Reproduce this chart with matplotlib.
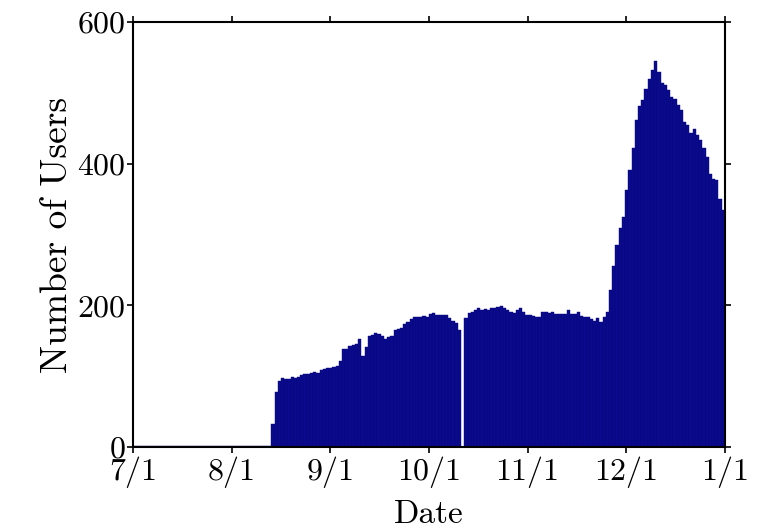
import numpy as np
import matplotlib
matplotlib.use("Agg")
import matplotlib.pyplot as plt

# daily number of users, one value per day starting 7/1
july = [2] * 31
early_aug = [1] * 12
users = july + early_aug + [
    33, 78, 93, 97, 96, 96, 99, 98, 99, 101,
    103, 103, 105, 106, 105, 108, 110, 111, 111, 113,
    114, 121, 138, 139, 143, 144, 146, 152, 128, 141,
    156, 158, 161, 160, 156, 153, 155, 157, 165, 167,
    168, 174, 177, 180, 184, 184, 184, 185, 184, 188,
    189, 186, 186, 187, 187, 182, 178, 175, 165, 0,
    182, 189, 190, 193, 196, 194, 195, 194, 196, 196,
    197, 199, 196, 193, 191, 189, 193, 196, 190, 186,
    186, 185, 184, 184, 191, 190, 189, 191, 188, 188,
    188, 188, 193, 188, 188, 190, 185, 184, 184, 180,
    178, 182, 177, 184, 191, 222, 255, 285, 309, 325,
    363, 391, 422, 462, 481, 490, 505, 520, 532, 545,
    530, 514, 511, 504, 494, 491, 483, 476, 459, 455,
    443, 449, 440, 433, 422, 409, 385, 379, 377, 350,
    335,
]
days = np.arange(len(users))

tick_labels = ["7/1", "8/1", "9/1", "10/1", "11/1", "12/1", "1/1"]
n_days = 184

plt.rcParams["font.family"] = "serif"
plt.rcParams["font.serif"] = ["cmr10", "DejaVu Serif"]
plt.rcParams["axes.formatter.use_mathtext"] = True

fig = plt.figure(figsize=(7.59, 5.31), dpi=100)
ax = fig.add_axes([0.1752, 0.1582, 0.7798, 0.8004])

ax.bar(days, users, width=1.0, align="edge", color="#0a0a8c",
       edgecolor="#07077a", linewidth=0.3)

ax.set_xlim(0, n_days)
ax.set_ylim(0, 600)
ax.set_xticks(np.linspace(0, n_days, len(tick_labels)))
ax.set_xticklabels(tick_labels)
ax.set_yticks([0, 200, 400, 600])

ax.tick_params(axis="both", which="both", direction="out", length=4.5, width=1.2,
               labelsize=23, pad=1, top=True, right=True)
ax.tick_params(axis="x", pad=2)
for s in ax.spines.values():
    s.set_linewidth(1.5)

ax.set_xlabel("Date", fontsize=24, labelpad=9)
ax.set_ylabel("Number of Users", fontsize=27, labelpad=2)

fig.savefig("out.png", dpi=100)
